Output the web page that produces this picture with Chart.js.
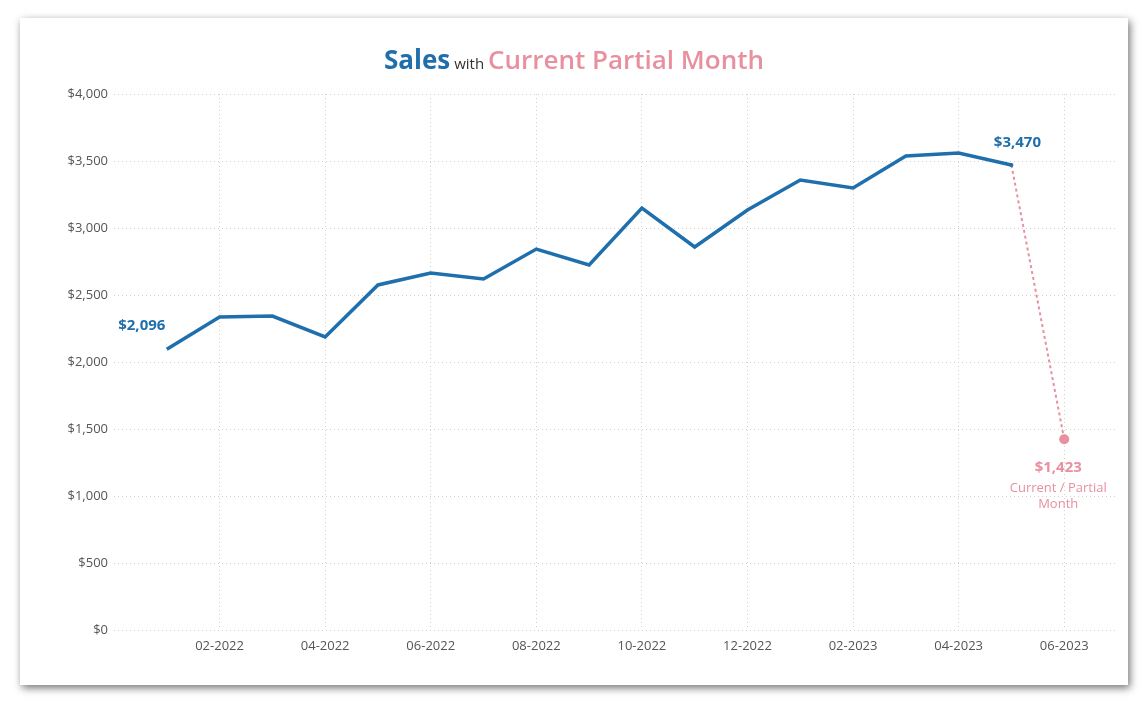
<!DOCTYPE html>
<html><head><meta charset="utf-8">
<script src="https://cdn.jsdelivr.net/npm/chart.js@4"></script>
<style>
html,body{margin:0;padding:0;background:#fff;width:1148px;height:704px;overflow:hidden}
#card{position:absolute;left:20px;top:18px;width:1108px;height:667px;background:#fff;box-shadow:2px 3px 8px rgba(0,0,0,0.55)}
canvas{display:block}
</style></head><body>
<div id="card"><canvas id="c" width="1108" height="667"></canvas></div>
<script>
const months=["01-2022","02-2022","03-2022","04-2022","05-2022","06-2022","07-2022","08-2022","09-2022","10-2022","11-2022","12-2022","01-2023","02-2023","03-2023","04-2023","05-2023","06-2023"];
const sales=[2096,2335,2343,2187,2575,2664,2619,2843,2724,3149,2858,3134,3358,3299,3537,3560,3470];
const partial=[3470,1423];
const yTicks=[0,500,1000,1500,2000,2500,3000,3500,4000];
const BLUE="#1f6fad",PINK="#e8909f";
const FONT="'Open Sans', sans-serif";
const fmt=v=>"$"+v.toLocaleString("en-US");

const titlePlugin={id:"title2",afterDraw(ch){
  const c=ch.ctx;c.save();c.textBaseline="alphabetic";
  const parts=[["Sales","bold 26px "+FONT,BLUE],[" with ","15px "+FONT,"#333"],["Current Partial Month","600 26px "+FONT,PINK]];
  let w=0;parts.forEach(p=>{c.font=p[1];w+=c.measureText(p[0]).width;});
  let x=554-w/2;
  parts.forEach(p=>{c.font=p[1];c.fillStyle=p[2];c.textAlign="left";c.fillText(p[0],x,51);x+=c.measureText(p[0]).width;});
  const xs=ch.scales.x,ys=ch.scales.y;
  c.textAlign="center";c.textBaseline="middle";
  c.font="bold 15px "+FONT;c.fillStyle=BLUE;
  c.fillText(fmt(sales[0]),xs.getPixelForValue(0)-25,ys.getPixelForValue(sales[0])-23);
  c.fillText(fmt(sales[16]),xs.getPixelForValue(16)+6,ys.getPixelForValue(sales[16])-22);
  const px=xs.getPixelForValue(17),py=ys.getPixelForValue(partial[1]);
  c.fillStyle=PINK;c.fillText(fmt(partial[1]),px-6,py+28);
  c.font="13px "+FONT;c.fillText("Current / Partial",px-6,py+49);c.fillText("Month",px-6,py+65);
  c.restore();
}};

new Chart(document.getElementById("c"),{
  type:"line",
  data:{datasets:[
    {data:sales.map((v,i)=>({x:i,y:v})),borderColor:BLUE,borderWidth:3.5,pointRadius:0,tension:0},
    {data:partial.map((v,i)=>({x:16+i,y:v})),borderColor:PINK,borderWidth:2,borderDash:[3,3],pointRadius:[2,5],pointBackgroundColor:[BLUE,PINK],pointBorderWidth:0,tension:0}
  ]},
  options:{responsive:false,animation:false,
    layout:{padding:{left:0,right:11,top:76,bottom:0}},
    plugins:{legend:{display:false},tooltip:{enabled:false}},
    scales:{
      x:{type:"linear",min:-1,max:18,
        afterBuildTicks(s){s.ticks=[1,3,5,7,9,11,13,15,17].map(v=>({value:v}));},
        afterFit(s){s.height=55;},
        ticks:{callback:v=>months[v]||"",color:"#555",font:{family:FONT,size:13},maxRotation:0,padding:8},
        grid:{color:"#d0d0d0",drawTicks:false},border:{display:false,dash:[1,3]}},
      y:{min:0,max:4000,
        afterBuildTicks(s){s.ticks=yTicks.map(v=>({value:v}));},
        afterFit(s){s.width=94;},
        ticks:{callback:v=>fmt(v),color:"#555",font:{family:FONT,size:13},padding:6},
        grid:{color:"#d0d0d0",drawTicks:false},border:{display:false,dash:[1,3]}}
    }},
  plugins:[titlePlugin]
});
</script></body></html>
